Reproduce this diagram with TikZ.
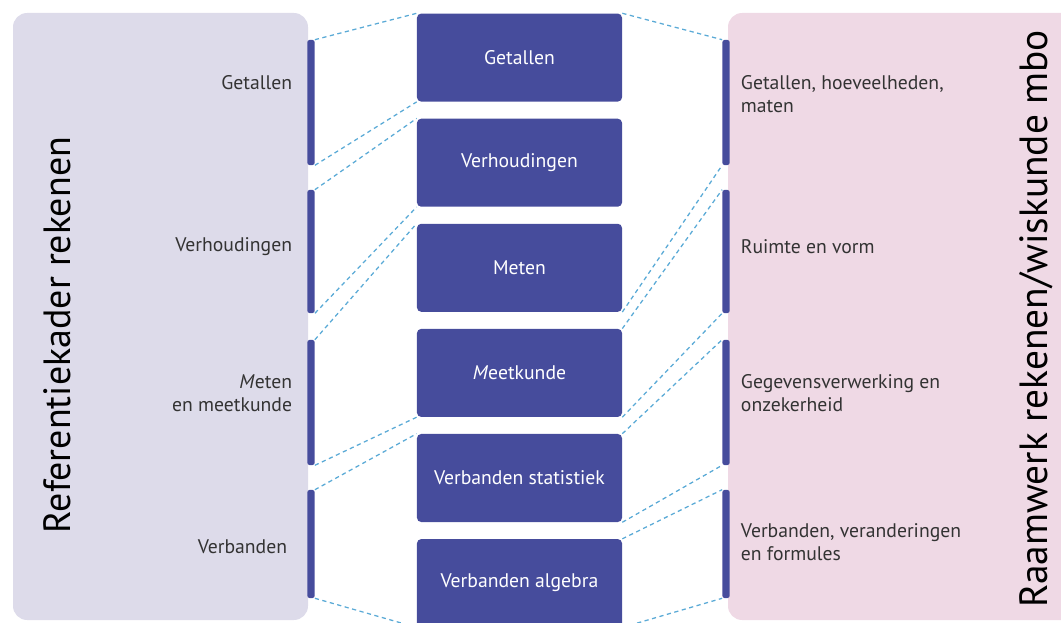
\documentclass[tikz,border=0pt]{standalone}
\usepackage{fontspec}
\setmainfont{PT Sans}
\usetikzlibrary{positioning}
\definecolor{lavpanel}{HTML}{DDDBEA}
\definecolor{pinkpanel}{HTML}{EFD9E5}
\definecolor{domblue}{HTML}{464C9C}
\definecolor{linkblue}{HTML}{5AAAD6}
\definecolor{labtext}{HTML}{333333}
\tikzset{mbox/.style={
    rectangle,
    fill=domblue,
    text=white,
    rounded corners=3pt,
    align=center,
    font=\fontsize{14}{16}\selectfont,
    minimum height=2.2cm,
    minimum width=5.125cm
  },
  barbox/.style={rectangle,fill=domblue,rounded corners=1.5pt,minimum width=0.18cm,inner sep=0pt},
  panel/.style={rounded corners=10pt},
  lablbox/.style={text=labtext,align=right,anchor=east,font=\fontsize{14}{16.5}\selectfont},
  labrbox/.style={text=labtext,align=left,anchor=west,font=\fontsize{14}{16.5}\selectfont},
  titlebox/.style={rotate=90,text=black,font=\fontsize{27}{30}\selectfont},
  link/.style={linkblue,dashed,dash pattern=on 3pt off 2.5pt,line width=0.9pt},
}
\begin{document}
\begin{tikzpicture}[x=0.025cm,y=-0.025cm]
  \useasboundingbox (0,0) rectangle (1061,623);
  % panels
  \fill[panel,lavpanel] (13,13) rectangle (308,620);
  \fill[panel,pinkpanel] (728,13) rectangle (1080,620);
  \node[titlebox] (lefttitle) at (57,335) {Referentiekader rekenen};
  \node[titlebox,font=\fontsize{28}{31}\selectfont] (righttitle) at (1036,319) {Raamwerk rekenen/wiskunde mbo};
  % middle column
  \matrix[row sep=0.42cm,inner sep=0pt,ampersand replacement=\&,anchor=north] (mid) at (519.5,13) {
    \node [mbox] (getal) {Getallen}; \\
    \node [mbox] (verhoud) {Verhoudingen}; \\
    \node [mbox] (meten) {Meten}; \\
    \node [mbox] (meetk) {\textit{M}eetkunde}; \\
    \node [mbox] (verbstat) {Verbanden statistiek}; \\
    \node [mbox] (verbalg) {Verbanden algebra}; \\
  };
  % bars left
  \node[barbox,minimum height=3.125cm] (lbar1) at (311,102.5) {};
  \node[barbox,minimum height=3.075cm] (lbar2) at (311,251.5) {};
  \node[barbox,minimum height=3.125cm] (lbar3) at (311,402.5) {};
  \node[barbox,minimum height=2.7cm] (lbar4) at (311,544) {};
  % bars right
  \node[barbox,minimum height=3.125cm] (rbar1) at (726,102.5) {};
  \node[barbox,minimum height=3.075cm] (rbar2) at (726,251.5) {};
  \node[barbox,minimum height=3.125cm] (rbar3) at (726,402.5) {};
  \node[barbox,minimum height=2.7cm] (rbar4) at (726,544) {};
  % labels
  \node[lablbox] (lgetal) at (297,83) {Getallen};
  \node[lablbox] (lverhoud) at (297,247) {Verhoudingen};
  \node[lablbox] (lmeten) at (297,393) {\textit{M}eten\\en meetkunde};
  \node[lablbox] (lverb) at (292,547) {Verbanden};
  \node[labrbox] (rgetal) at (736,94) {Getallen, hoeveelheden,\\maten};
  \node[labrbox] (rruimte) at (736,247) {Ruimte en vorm};
  \node[labrbox] (rgegev) at (736,393) {Gegevensverwerking en\\onzekerheid};
  \node[labrbox] (rverb) at (736,542) {Verbanden, veranderingen\\en formules};
  % links left
  \draw[link] (lbar1.north east) -- (getal.north west);
  \draw[link] (lbar1.south east) -- (getal.south west);
  \draw[link] (lbar2.north east) -- (verhoud.north west);
  \draw[link] (lbar2.south east) -- (verhoud.south west);
  \draw[link] (lbar3.north east) -- (meten.north west);
  \draw[link] (lbar3.south east) -- (meetk.south west);
  \draw[link] (lbar4.north east) -- (verbstat.north west);
  \draw[link] (lbar4.south east) -- (verbalg.south west);
  % links right
  \draw[link] (getal.north east) -- (rbar1.north west);
  \draw[link] (meten.south east) -- (rbar1.south west);
  \draw[link] (meetk.north east) -- (rbar2.north west);
  \draw[link] (meetk.south east) -- (rbar2.south west);
  \draw[link] (verbstat.north east) -- (rbar3.north west);
  \draw[link] (verbstat.south east) -- (rbar3.south west);
  \draw[link] (verbalg.north east) -- (rbar4.north west);
  \draw[link] (verbalg.south east) -- (rbar4.south west);
\end{tikzpicture}
\end{document}
